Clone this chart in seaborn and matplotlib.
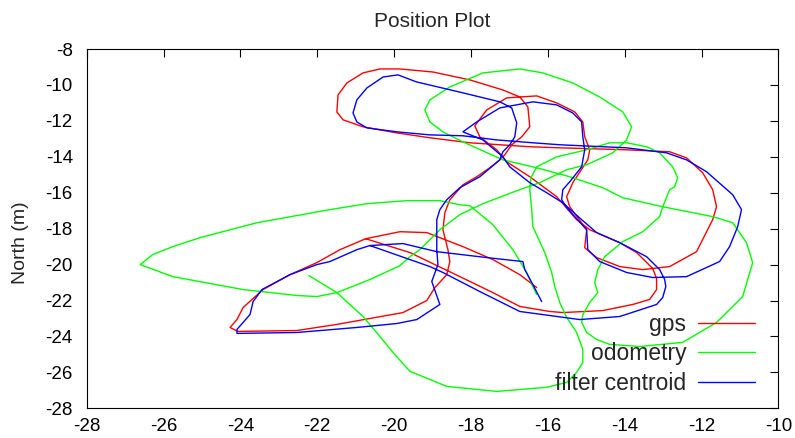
import matplotlib
matplotlib.use("Agg")
import matplotlib.pyplot as plt
import seaborn as sns

# ---- data (East, North in metres) ----
gps_east = [-20.74, -19.59, -18.29, -17.43, -16.73, -15.95, -15.61, -14.57, -13.79, -13.35,
            -13.17, -13.17, -13.27, -13.69, -14.13, -14.91, -15.25, -15.77, -16.47, -17.07,
            -17.33, -17.77, -17.90, -17.59, -17.07, -16.29, -15.77, -15.30, -15.09, -15.04,
            -14.91, -14.96, -15.35, -15.51, -15.43, -14.99, -15.04, -14.73, -14.13, -13.53,
            -12.83, -12.13, -11.71, -11.61, -11.71, -11.97, -12.39, -12.83, -13.95, -15.69,
            -16.47, -18.03, -19.07, -19.93, -20.81, -21.33, -21.49, -21.46, -21.23, -20.81,
            -20.37, -19.85, -18.99, -18.03, -17.17, -16.73, -16.52, -16.47, -16.68, -16.94,
            -17.12, -17.25, -17.51, -17.85, -18.21, -18.55, -18.68, -18.73, -18.60, -18.55,
            -18.63, -18.94, -19.15, -19.77, -21.49, -22.53, -24.07, -24.27, -24.09, -23.93,
            -23.41, -22.71, -22.01, -21.41, -20.74, -19.85, -19.15, -18.21, -17.43, -16.73,
            -16.29]
gps_north = [-18.56, -19.33, -20.67, -21.56, -22.33, -22.61, -22.67, -22.56, -22.22, -21.94,
             -21.39, -20.78, -20.22, -19.33, -18.78, -18.06, -17.50, -16.22, -15.11, -14.28,
             -13.61, -12.89, -12.28, -11.39, -10.72, -10.61, -11.00, -11.50, -12.06, -12.89,
             -13.61, -14.17, -15.44, -16.22, -16.78, -18.06, -19.06, -19.61, -20.11, -20.28,
             -20.11, -19.28, -17.50, -16.78, -15.83, -14.89, -14.06, -13.72, -13.61, -13.50,
             -13.44, -13.22, -12.94, -12.67, -12.33, -11.94, -11.50, -10.56, -9.89, -9.33,
             -9.11, -9.11, -9.28, -9.72, -10.28, -10.67, -11.22, -12.33, -12.89, -13.33,
             -13.89, -14.17, -14.61, -15.11, -15.56, -16.39, -17.11, -18.06, -19.17, -19.83,
             -20.56, -21.28, -22.00, -22.67, -23.33, -23.67, -23.72, -23.50, -23.06, -22.39,
             -21.39, -20.56, -19.89, -19.17, -18.56, -18.17, -18.22, -19.00, -19.72, -20.56,
             -21.28]

odom_east = [-22.22, -21.49, -20.81, -20.37, -20.03, -19.59, -18.63, -17.33, -16.03, -15.51,
             -15.25, -15.09, -15.09, -15.25, -15.51, -15.69, -15.82, -15.90, -16.08, -16.39,
             -16.42, -16.47, -16.44, -16.29, -15.77, -14.99, -14.39, -13.95, -13.43, -13.09,
             -12.75, -12.62, -12.70, -12.83, -13.01, -13.09, -13.53, -14.05, -14.52, -14.70,
             -14.78, -14.70, -14.91, -15.09, -15.12, -14.99, -14.73, -14.39, -13.61, -12.49,
             -11.61, -10.93, -10.67, -10.83, -11.19, -11.71, -13.01, -14.05, -14.57, -15.43,
             -16.29, -17.17, -18.21, -18.73, -19.07, -19.20, -19.07, -18.55, -17.69, -16.73,
             -16.13, -15.35, -14.65, -14.05, -13.82, -13.95, -14.31, -14.99, -15.51, -16.21,
             -16.81, -17.69, -18.29, -18.81, -19.33, -19.59, -19.85, -20.63, -21.49, -22.01,
             -22.53, -23.93, -25.76, -26.61, -26.28, -25.76, -25.05, -23.57, -21.67, -20.71,
             -19.67, -18.81, -18.29, -18.03, -17.43, -16.91, -16.55, -16.39, -16.29]
odom_north = [-20.61, -21.56, -22.89, -24.00, -24.89, -25.94, -26.78, -27.06, -26.83, -26.56,
              -26.00, -25.44, -24.72, -23.78, -22.94, -22.11, -21.22, -20.44, -19.33, -17.89,
              -16.94, -15.83, -15.17, -14.56, -14.00, -13.61, -13.22, -13.22, -13.44, -13.78,
              -14.56, -15.17, -15.67, -15.83, -16.78, -17.33, -18.17, -18.72, -19.56, -20.28,
              -21.00, -21.56, -22.11, -22.78, -23.22, -23.78, -24.17, -24.44, -24.56, -24.33,
              -23.22, -21.78, -19.89, -18.78, -17.67, -17.33, -16.78, -16.28, -15.72, -15.11,
              -14.61, -14.17, -13.17, -12.61, -12.06, -11.39, -10.83, -10.11, -9.33, -9.11,
              -9.33, -9.89, -10.67, -11.50, -12.33, -13.06, -13.78, -14.44, -14.72, -15.44,
              -15.89, -16.61, -17.22, -18.06, -19.17, -19.56, -20.06, -20.83, -21.56, -21.78,
              -21.72, -21.39, -20.67, -20.00, -19.44, -19.00, -18.50, -17.67, -16.94, -16.61,
              -16.44, -16.44, -16.67, -16.72, -17.78, -19.17, -20.44, -21.22, -21.67]

filt_east = [-20.63, -19.07, -18.73, -17.77, -16.73, -15.17, -14.13, -13.17, -13.01, -12.93,
             -12.96, -13.09, -13.43, -14.13, -14.73, -15.12, -15.61, -16.03, -16.47, -16.99,
             -17.17, -17.69, -18.21, -17.85, -17.25, -16.39, -15.77, -15.35, -15.12, -15.09,
             -15.04, -15.12, -15.43, -15.61, -15.64, -15.51, -14.99, -14.96, -14.65, -13.95,
             -13.27, -12.39, -11.53, -11.27, -11.06, -10.96, -11.19, -11.87, -12.39, -12.91,
             -13.95, -15.69, -16.39, -17.33, -18.21, -19.07, -19.93, -20.71, -20.97, -21.07,
             -20.97, -20.71, -20.29, -19.90, -19.42, -18.21, -17.25, -16.94, -16.81, -16.86,
             -16.99, -17.17, -17.25, -17.77, -18.29, -18.63, -18.81, -18.89, -18.89, -18.86,
             -19.02, -18.81, -19.41, -19.93, -20.97, -22.53, -24.09, -24.09, -23.75, -23.67,
             -23.44, -22.71, -22.01, -21.67, -20.97, -20.63, -19.77, -18.89, -17.59, -16.65,
             -16.60, -16.39, -16.16]
filt_north = [-18.94, -20.11, -20.44, -21.50, -22.61, -23.06, -22.89, -22.22, -21.83, -21.22,
              -20.83, -20.28, -19.56, -18.78, -18.22, -17.50, -16.56, -16.00, -15.44, -14.56,
              -14.00, -13.06, -12.61, -12.06, -11.28, -10.94, -11.11, -11.56, -12.06, -12.89,
              -13.61, -14.56, -15.39, -15.83, -16.39, -16.83, -18.06, -19.17, -19.83, -20.44,
              -20.72, -20.67, -19.83, -19.00, -17.89, -16.94, -16.11, -14.83, -14.17, -13.78,
              -13.50, -13.33, -13.22, -13.06, -12.83, -12.78, -12.61, -12.39, -12.06, -11.56,
              -10.83, -10.17, -9.56, -9.44, -9.83, -10.44, -10.94, -11.28, -12.11, -12.89,
              -13.33, -13.72, -14.17, -15.11, -15.72, -16.39, -16.94, -17.50, -19.17, -20.00,
              -20.94, -22.22, -23.06, -23.28, -23.50, -23.78, -23.83, -23.61, -22.78, -22.06,
              -21.39, -20.56, -20.00, -19.83, -19.17, -18.94, -18.83, -19.28, -19.61, -19.83,
              -20.28, -21.11, -22.06]

x_ticks = [-28, -26, -24, -22, -20, -18, -16, -14, -12, -10]
y_ticks = [-28, -26, -24, -22, -20, -18, -16, -14, -12, -10, -8]
series_labels = ["gps", "odometry", "filter centroid"]
series_colors = ["#ff0000", "#00ff00", "#0000ff"]

# ---- style ----
sns.set_style("white")
plt.rcParams["font.family"] = ["Liberation Sans", "DejaVu Sans"]
plt.rcParams["axes.unicode_minus"] = False

fig = plt.figure(figsize=(7.95, 4.38), dpi=100)
ax = fig.add_axes([0.10906, 0.0678, 0.87006, 0.8203])

for (xs, ys), lab, col in zip([(gps_east, gps_north), (odom_east, odom_north), (filt_east, filt_north)],
                              series_labels, series_colors):
    sns.lineplot(x=xs, y=ys, sort=False, estimator=None, color=col, linewidth=1.0,
                 label=lab, ax=ax)

ax.set_xlim(-28, -10)
ax.set_ylim(-28, -8)
ax.set_xticks(x_ticks)
ax.set_yticks(y_ticks)
ax.set_xticklabels([str(t) for t in x_ticks])
ax.set_yticklabels([str(t) for t in y_ticks])
ax.tick_params(direction="in", length=6, width=0.8, top=True, right=True,
               labelsize=13.5, colors="black")
ax.tick_params(axis="x", pad=7)
ax.tick_params(axis="y", pad=10)
for s in ax.spines.values():
    s.set_visible(True)
    s.set_color("black")
    s.set_linewidth(0.8)

ax.set_title("Position Plot", fontsize=15, pad=16)
ax.set_ylabel("North (m)", fontsize=14)
ax.yaxis.set_label_coords(-0.083, 0.46)
ax.set_xlabel("")

ax.legend(loc="lower right", bbox_to_anchor=(0.966, 0.036), frameon=False, markerfirst=False,
          fontsize=16.5, handlelength=2.5, labelspacing=0.3, borderaxespad=0, borderpad=0,
          handletextpad=0.5)

fig.savefig("out.png", dpi=100)
